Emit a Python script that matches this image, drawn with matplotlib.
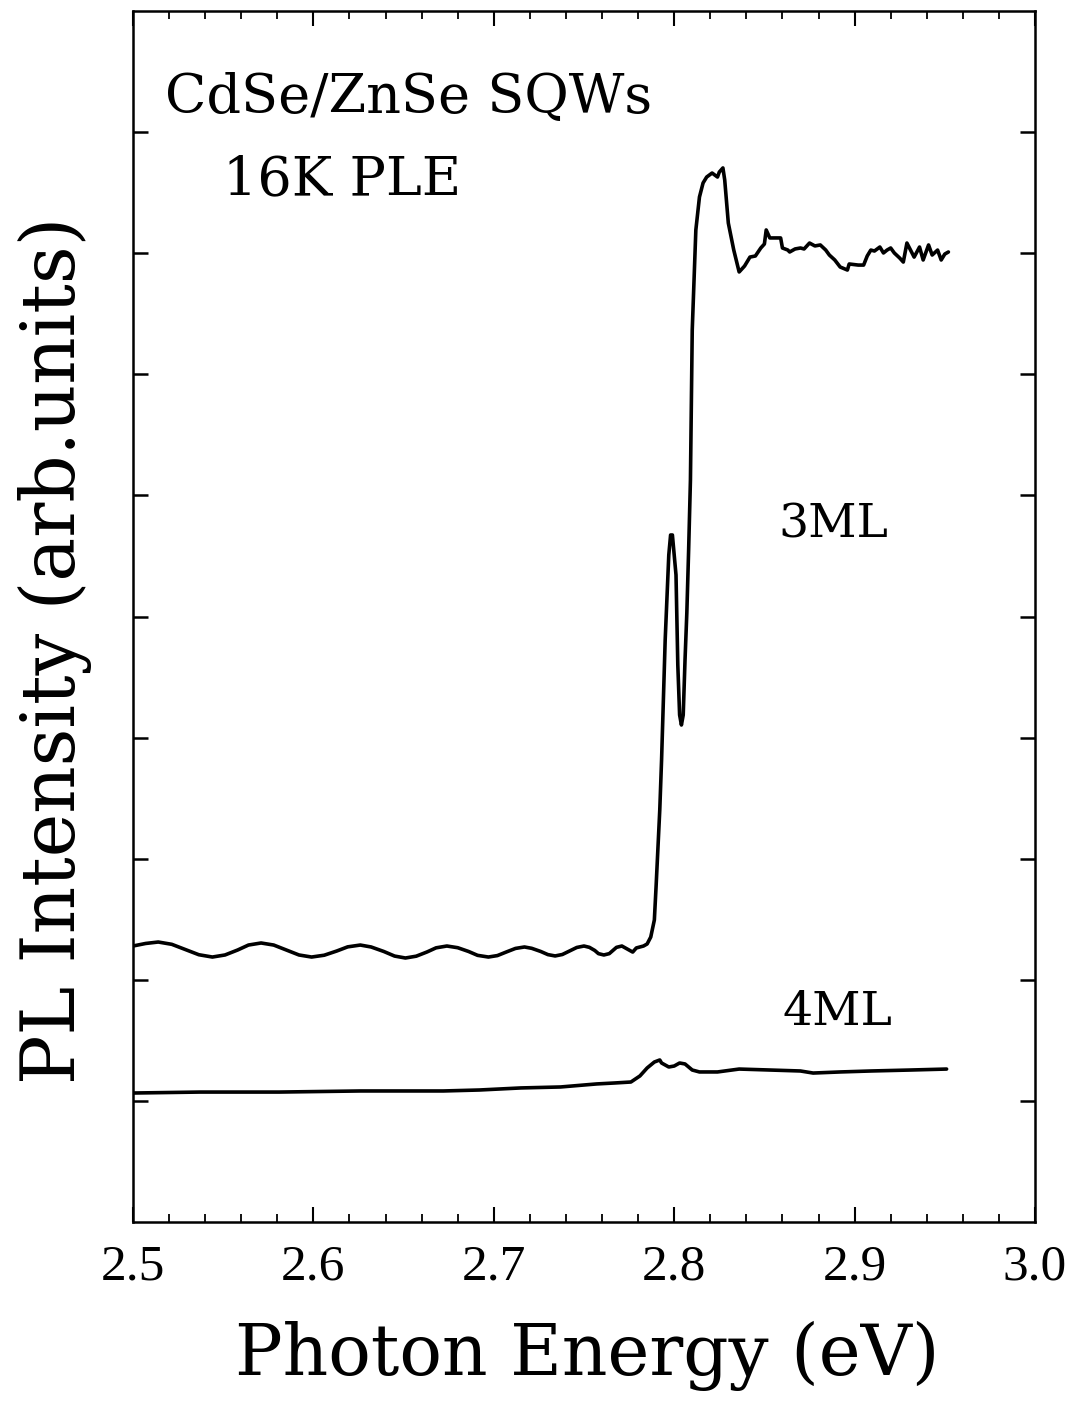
import matplotlib
matplotlib.use("Agg")
import matplotlib.pyplot as plt
from matplotlib.ticker import MultipleLocator

# ---- PLE spectra of CdSe/ZnSe single quantum wells (16 K) ----
energy_3ml = [2.500, 2.507, 2.514, 2.5215, 2.529, 2.5365, 2.544, 2.551, 2.558, 2.564,
              2.571, 2.578, 2.585, 2.592, 2.599, 2.606, 2.613, 2.619, 2.626, 2.632,
              2.639, 2.645, 2.651, 2.657, 2.663, 2.668, 2.674, 2.680, 2.686, 2.691,
              2.697, 2.702, 2.707, 2.712, 2.717, 2.721, 2.726, 2.730, 2.734, 2.738,
              2.742, 2.746, 2.750, 2.753, 2.756, 2.758, 2.761, 2.764, 2.766, 2.768,
              2.771, 2.774, 2.777, 2.779, 2.783,
              2.785, 2.787, 2.789, 2.790, 2.792, 2.793, 2.795, 2.797, 2.798, 2.799,
              2.801, 2.802, 2.803, 2.804, 2.805, 2.806, 2.807, 2.808, 2.809, 2.810,
              2.812, 2.814, 2.816, 2.818, 2.821, 2.824, 2.825, 2.827, 2.828, 2.830,
              2.833, 2.836, 2.839, 2.842, 2.845, 2.848, 2.850, 2.851, 2.853, 2.859,
              2.860, 2.863, 2.864, 2.867, 2.870, 2.872, 2.875, 2.878, 2.881, 2.884,
              2.886, 2.889, 2.892, 2.896, 2.897, 2.902, 2.905, 2.907, 2.909, 2.911,
              2.914, 2.916, 2.918, 2.920, 2.922, 2.925, 2.927, 2.929, 2.931, 2.933,
              2.936, 2.938, 2.941, 2.943, 2.946, 2.948, 2.950, 2.952]
intensity_3ml = [2.279, 2.300, 2.312, 2.293, 2.250, 2.207, 2.188, 2.205, 2.246, 2.287,
                 2.304, 2.287, 2.246, 2.205, 2.188, 2.203, 2.238, 2.272, 2.287, 2.271,
                 2.234, 2.196, 2.180, 2.195, 2.230, 2.264, 2.279, 2.265, 2.234, 2.202,
                 2.188, 2.200, 2.230, 2.259, 2.271, 2.260, 2.234, 2.208, 2.197, 2.209,
                 2.238, 2.267, 2.279, 2.268, 2.242, 2.216, 2.205, 2.216, 2.242, 2.268,
                 2.279, 2.254, 2.229, 2.263, 2.279,
                 2.296, 2.353, 2.494, 2.783, 3.402, 3.815, 4.806, 5.508, 5.673, 5.673,
                 5.343, 4.600, 4.187, 4.104, 4.187, 4.641, 5.029, 5.549, 6.127, 7.366,
                 8.192, 8.464, 8.580, 8.629, 8.662, 8.629, 8.670, 8.704, 8.605, 8.249,
                 8.027, 7.845, 7.894, 7.968, 7.977, 8.043, 8.076, 8.192, 8.126, 8.126,
                 8.043, 8.026, 8.010, 8.035, 8.043, 8.035, 8.084, 8.060, 8.068, 8.026,
                 7.985, 7.944, 7.886, 7.861, 7.911, 7.902, 7.902, 7.977, 8.026, 8.018,
                 8.051, 8.002, 8.026, 8.043, 8.002, 7.960, 7.927, 8.084, 8.026, 7.968,
                 8.051, 7.944, 8.068, 7.985, 8.026, 7.944, 7.993, 8.010]

energy_4ml = [2.500, 2.537, 2.581, 2.626, 2.672, 2.692, 2.715, 2.737, 2.757, 2.767,
              2.776, 2.781, 2.785, 2.789, 2.792, 2.793, 2.797, 2.800, 2.803, 2.806,
              2.810, 2.814, 2.824, 2.836, 2.853, 2.870, 2.877, 2.892, 2.909, 2.931,
              2.951]
intensity_4ml = [1.065, 1.073, 1.073, 1.082, 1.082, 1.090, 1.107, 1.115, 1.140, 1.148,
                 1.156, 1.206, 1.272, 1.321, 1.338, 1.313, 1.280, 1.288, 1.313, 1.305,
                 1.255, 1.239, 1.239, 1.263, 1.255, 1.247, 1.230, 1.239, 1.247, 1.255,
                 1.263]

x_ticks = [2.5, 2.6, 2.7, 2.8, 2.9, 3.0]
x_tick_labels = ["2.5", "2.6", "2.7", "2.8", "2.9", "3.0"]
y_ticks = [1, 2, 3, 4, 5, 6, 7, 8, 9]

TEXT_FONT = "DejaVu Serif"
TICK_FONT = "Liberation Serif"

fig = plt.figure(figsize=(10.78, 14.12), dpi=100)
ax = fig.add_axes([133 / 1078, (1412 - 1222) / 1412, (1035 - 133) / 1078, (1222 - 11) / 1412])

ax.plot(energy_3ml, intensity_3ml, color="black", lw=2.6,
        solid_joinstyle="round", solid_capstyle="round")
ax.plot(energy_4ml, intensity_4ml, color="black", lw=2.6,
        solid_joinstyle="round", solid_capstyle="round")

ax.set_xlim(2.5, 3.0)
ax.set_ylim(0, 10)

ax.set_xticks(x_ticks)
ax.set_xticklabels(x_tick_labels, fontfamily=TICK_FONT, fontsize=37)
ax.xaxis.set_minor_locator(MultipleLocator(0.02))
ax.set_yticks(y_ticks)
ax.set_yticklabels([])

ax.tick_params(axis="x", which="major", direction="in", length=11, width=1.5,
               top=True, bottom=True, pad=16)
ax.tick_params(axis="x", which="minor", direction="in", length=6, width=1.3,
               top=True, bottom=True)
ax.tick_params(axis="y", which="major", direction="in", length=11, width=1.8,
               left=True, right=True)

for s in ax.spines.values():
    s.set_linewidth(1.8)

# axis titles
fig.text(587 / 1078, (1412 - 1375) / 1412, "Photon Energy (eV)", fontfamily=TEXT_FONT,
         fontsize=51, ha="center", va="baseline")
fig.text(75 / 1078, (1412 - 650) / 1412, "PL Intensity (arb.units)", fontfamily=TEXT_FONT,
         fontsize=53, rotation=90, rotation_mode="anchor", ha="center", va="baseline")

# annotations
ax.text(2.518, 9.16, "CdSe/ZnSe SQWs", fontfamily=TEXT_FONT, fontsize=39, va="baseline", ha="left")
ax.text(2.550, 8.48, "16K PLE", fontfamily=TEXT_FONT, fontsize=39, va="baseline", ha="left")
ax.text(2.8575, 5.65, "3ML", fontfamily=TEXT_FONT, fontsize=34, va="baseline", ha="left")
ax.text(2.860, 1.63, "4ML", fontfamily=TEXT_FONT, fontsize=34, va="baseline", ha="left")

fig.savefig("out.png", dpi=100)
